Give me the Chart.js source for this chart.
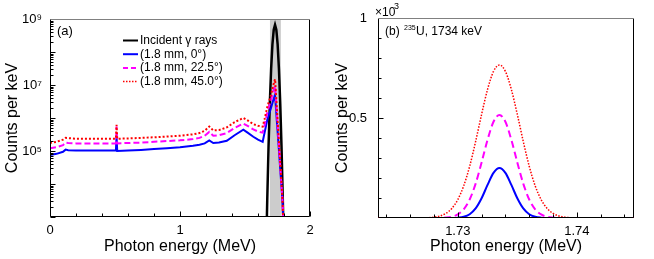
<!DOCTYPE html>
<html>
<head>
<meta charset="utf-8">
<script src="https://cdn.jsdelivr.net/npm/chart.js@4.4.0/dist/chart.umd.min.js"></script>
<style>
  html, body { margin: 0; padding: 0; background: #fff; }
  #wrap { position: relative; width: 654px; height: 259px; }
  canvas { position: absolute; top: 0; }
  #chartA { left: 0; }
  #chartB { left: 330px; }
</style>
</head>
<body>
<div id="wrap">
  <canvas id="chartA" width="330" height="259"></canvas>
  <canvas id="chartB" width="324" height="259"></canvas>
</div>
<script>
// series names
const seriesNames = ['Incident \u03b3 rays', '(1.8 mm, 0\u00b0)', '(1.8 mm, 22.5\u00b0)', '(1.8 mm, 45.0\u00b0)'];

// panel (a): incident gamma rays (MeV, counts per keV)
const incEnergy = [0, 1.65, 1.661, 1.671, 1.681, 1.691, 1.701, 1.711, 1.721, 1.731, 1.741, 1.751, 1.761, 1.771, 1.781, 1.791, 1.801, 1.81, 2.0];
const incCounts = [1, 1, 37, 3.1e3, 1.3e5, 2.8e6, 3.1e7, 1.7e8, 4.7e8, 6.6e8, 4.7e8, 1.7e8, 3.1e7, 2.8e6, 1.3e5, 3.1e3, 37, 1, 1];

// panel (a): detector spectra
const energyA = [0, 0.05, 0.10, 0.12, 0.14, 0.2, 0.3, 0.4, 0.5, 0.507, 0.512, 0.517, 0.6, 0.7, 0.8, 0.9, 1.0, 1.1, 1.15, 1.19, 1.225, 1.256, 1.3, 1.36, 1.42, 1.487, 1.52, 1.564, 1.6, 1.636, 1.65, 1.672, 1.70, 1.715, 1.731, 1.745, 1.76, 1.775, 1.79, 1.80, 2.0];
const blueA = [7.6e4, 8.2e4, 9.5e4, 1.1e5, 1.06e5, 1.04e5, 1.03e5, 1.03e5, 1.03e5, 1.04e5, 2.9e5, 1.0e5, 1.04e5, 1.08e5, 1.14e5, 1.22e5, 1.3e5, 1.45e5, 1.55e5, 1.7e5, 2.1e5, 1.75e5, 1.8e5, 2.05e5, 3.0e5, 4.4e5, 3.6e5, 2.7e5, 2.2e5, 1.9e5, 3.5e5, 9e5, 2e6, 3.2e6, 5e6, 8e5, 1.2e5, 1.7e4, 2.5e3, 100, 100];
const magentaA = [1.2e5, 1.3e5, 1.5e5, 1.8e5, 1.75e5, 1.7e5, 1.7e5, 1.7e5, 1.7e5, 1.75e5, 5.5e5, 1.7e5, 1.75e5, 1.8e5, 1.9e5, 2.0e5, 2.1e5, 2.3e5, 2.5e5, 2.9e5, 3.8e5, 2.9e5, 3.0e5, 3.5e5, 5e5, 6.8e5, 5.8e5, 4.5e5, 3.9e5, 3.6e5, 6e5, 1.5e6, 3.5e6, 6e6, 9.5e6, 1.4e6, 1.7e5, 2.1e4, 2.6e3, 100, 100];
const redA = [1.75e5, 1.9e5, 2.2e5, 2.5e5, 2.45e5, 2.35e5, 2.35e5, 2.35e5, 2.35e5, 2.4e5, 6.2e5, 2.35e5, 2.4e5, 2.5e5, 2.6e5, 2.75e5, 2.9e5, 3.2e5, 3.5e5, 4.1e5, 5.5e5, 4.2e5, 4.3e5, 5.2e5, 7.5e5, 1.0e6, 8.5e5, 6.5e5, 5.8e5, 5.5e5, 9e5, 2.2e6, 5e6, 9e6, 1.5e7, 2e6, 2.2e5, 2.5e4, 2.5e3, 100, 100];

// panel (b): 1734 keV peak (x10^3 counts per keV)
const energyB = [1.7233, 1.7265, 1.7270, 1.7275, 1.7280, 1.7285, 1.7290, 1.7295, 1.7300, 1.7305, 1.7310, 1.7315, 1.7320, 1.7325, 1.7330, 1.7335, 1.7340, 1.7345, 1.7350, 1.7355, 1.7360, 1.7365, 1.7370, 1.7375, 1.7380, 1.7385, 1.7390, 1.7395, 1.7400, 1.7405, 1.7448];
const blueB = [0, 0, 0, 0, 0, 0, 0, 0.0003, 0.0016, 0.0061, 0.0189, 0.0479, 0.0986, 0.1654, 0.2255, 0.25, 0.2255, 0.1654, 0.0986, 0.0479, 0.0189, 0.0061, 0.0016, 0.0003, 0, 0, 0, 0, 0, 0, 0];
const magentaB = [0, 0, 0, 0, 0.0001, 0.0005, 0.002, 0.0064, 0.0179, 0.0436, 0.0927, 0.172, 0.278, 0.391, 0.481, 0.515, 0.481, 0.391, 0.278, 0.172, 0.0927, 0.0436, 0.0179, 0.0064, 0.002, 0.0005, 0.0001, 0, 0, 0, 0];
const redB = [0, 0.0002, 0.0005, 0.0015, 0.0041, 0.0101, 0.023, 0.048, 0.0919, 0.161, 0.259, 0.383, 0.518, 0.643, 0.733, 0.765, 0.733, 0.643, 0.518, 0.383, 0.259, 0.161, 0.0919, 0.048, 0.023, 0.0101, 0.0041, 0.0015, 0.0005, 0.0002, 0];

// tick labels
const xTicksA = [0, 1, 2];
const yTicksA = [1e5, 1e7, 1e9];
const yTickTextA = ['10\u2075', '10\u2077', '10\u2079'];
const xTicksB = [1.73, 1.74];
const yTicksB = [0.5, 1];
const yTickTextB = ['0.5', '1'];

// shaded window around the 1734 keV line
const bandLo = 1.692, bandHi = 1.776;

const FONT = "'Liberation Sans', Arial, Helvetica, sans-serif";
Chart.defaults.font.family = FONT;
Chart.defaults.color = '#000';

const BLUE = '#0000ff', MAGENTA = '#ff00ff', RED = '#ff0000';

function toXY(xs, ys) {
  return xs.map((x, i) => ({ x: x, y: ys[i] }));
}

// grey band behind curves
const bandPlugin = {
  id: 'band',
  beforeDatasetsDraw(chart, args, opts) {
    if (!opts.show) return;
    const { ctx, chartArea: a, scales } = chart;
    const x1 = scales.x.getPixelForValue(bandLo);
    const x2 = scales.x.getPixelForValue(bandHi);
    ctx.save();
    ctx.fillStyle = '#cccccc';
    ctx.fillRect(x1, a.top, x2 - x1, a.bottom - a.top);
    ctx.restore();
  }
};

// box and inward ticks
const framePlugin = {
  id: 'frame',
  afterDatasetsDraw(chart, args, opts) {
    const { ctx, chartArea: a, scales } = chart;
    ctx.save();
    ctx.lineWidth = 1;
    ctx.strokeStyle = '#000';
    const seg = (x1, y1, x2, y2) => { ctx.beginPath(); ctx.moveTo(x1, y1); ctx.lineTo(x2, y2); ctx.stroke(); };
    const L = Math.round(a.left) + 0.5, R = Math.round(a.right) - 0.5;
    const T = Math.round(a.top) + 0.5, B = Math.round(a.bottom) - 0.5;
    (opts.xMajor || []).forEach(v => { const p = Math.round(scales.x.getPixelForValue(v)) + 0.5; seg(p, B, p, B - 5); });
    (opts.xMinor || []).forEach(v => { const p = Math.round(scales.x.getPixelForValue(v)) + 0.5; seg(p, B, p, B - 3); });
    (opts.yMajor || []).forEach(v => { const p = Math.round(scales.y.getPixelForValue(v)) + 0.5; seg(L, p, L + 5, p); });
    (opts.yMinor || []).forEach(v => { const p = Math.round(scales.y.getPixelForValue(v)) + 0.5; seg(L, p, L + 3, p); });
    seg(L, T, L, B); seg(L, B, R, B); seg(R, B, R, T);
    ctx.strokeStyle = '#808080';
    seg(L, T, R, T);
    ctx.restore();
  }
};

// legend and panel text inside the plot
const keyPlugin = {
  id: 'key',
  afterDraw(chart, args, opts) {
    const { ctx } = chart;
    ctx.save();
    ctx.font = '12px ' + FONT;
    ctx.textBaseline = 'middle';
    ctx.fillStyle = '#000';
    opts.items.forEach((it, i) => {
      const y = opts.y + i * opts.row;
      ctx.strokeStyle = it.color;
      ctx.lineWidth = it.width;
      ctx.setLineDash(it.dash || []);
      ctx.beginPath();
      ctx.moveTo(opts.x, y);
      ctx.lineTo(opts.x + opts.len, y);
      ctx.stroke();
      ctx.setLineDash([]);
      ctx.textAlign = 'left';
      ctx.font = '12px ' + FONT;
      ctx.fillText(it.text, opts.x + opts.len + 2, y);
    });
    (opts.notes || []).forEach(n => {
      ctx.font = n.size + 'px ' + FONT;
      ctx.textAlign = 'left';
      ctx.fillText(n.text, n.x, n.y);
    });
    ctx.restore();
  }
};

const logMinorA = [];
for (let e = 3; e < 9; e++) {
  for (let m = 2; m < 10; m++) logMinorA.push(m * Math.pow(10, e));
}
const logMajorA = [1e3, 1e4, 1e5, 1e6, 1e7, 1e8, 1e9];

new Chart(document.getElementById('chartA'), {
  type: 'line',
  data: {
    datasets: [
      { label: seriesNames[0], data: toXY(incEnergy, incCounts), borderColor: '#000', borderWidth: 2.5, order: 4 },
      { label: seriesNames[1], data: toXY(energyA, blueA), borderColor: BLUE, borderWidth: 2, order: 3 },
      { label: seriesNames[2], data: toXY(energyA, magentaA), borderColor: MAGENTA, borderWidth: 2, borderDash: [6, 3], order: 2 },
      { label: seriesNames[3], data: toXY(energyA, redA), borderColor: RED, borderWidth: 2, borderDash: [2, 2], order: 1 }
    ]
  },
  options: {
    responsive: false,
    devicePixelRatio: 1,
    animation: false,
    elements: { point: { radius: 0 }, line: { tension: 0, fill: false } },
    layout: { padding: { top: 19, right: 20, left: 0, bottom: 0 } },
    plugins: {
      legend: { display: false },
      tooltip: { enabled: false },
      band: { show: true },
      frame: { xMajor: xTicksA, xMinor: [0.2, 0.4, 0.6, 0.8, 1.2, 1.4, 1.6, 1.8], yMajor: logMajorA, yMinor: logMinorA },
      key: {
        x: 123, y: 40.5, row: 13.7, len: 15,
        items: [
          { text: seriesNames[0], color: '#000', width: 2 },
          { text: seriesNames[1], color: BLUE, width: 2 },
          { text: seriesNames[2], color: MAGENTA, width: 2, dash: [5, 3] },
          { text: seriesNames[3], color: RED, width: 1.5, dash: [1.5, 1.5] }
        ],
        notes: [{ text: '(a)', x: 57, y: 31, size: 13 }]
      }
    },
    scales: {
      x: {
        type: 'linear', min: 0, max: 2,
        afterFit(s) { s.height = 42; },
        afterBuildTicks(s) { s.ticks = xTicksA.map(v => ({ value: v })); },
        grid: { display: false }, border: { display: false },
        ticks: { font: { size: 13 }, padding: -2, maxRotation: 0, callback: v => String(v) },
        title: { display: true, text: 'Photon energy (MeV)', font: { size: 16 }, padding: { top: 2, bottom: 3 } }
      },
      y: {
        type: 'logarithmic', min: 1e3, max: 1e9,
        afterFit(s) { s.width = 50; },
        afterBuildTicks(s) { s.ticks = yTicksA.map(v => ({ value: v })); },
        grid: { display: false }, border: { display: false },
        ticks: { font: { size: 13 }, padding: 0, callback: v => yTickTextA[yTicksA.indexOf(v)] || '' },
        title: { display: true, text: 'Counts per keV', font: { size: 16 }, padding: { top: 3, bottom: 0 } }
      }
    }
  },
  plugins: [bandPlugin, framePlugin, keyPlugin]
});

new Chart(document.getElementById('chartB'), {
  type: 'line',
  data: {
    datasets: [
      { label: seriesNames[1], data: toXY(energyB, blueB), borderColor: BLUE, borderWidth: 2, order: 3 },
      { label: seriesNames[2], data: toXY(energyB, magentaB), borderColor: MAGENTA, borderWidth: 2, borderDash: [7, 4], order: 2 },
      { label: seriesNames[3], data: toXY(energyB, redB), borderColor: RED, borderWidth: 1.5, borderDash: [1.5, 1.5], order: 1 }
    ]
  },
  options: {
    responsive: false,
    devicePixelRatio: 1,
    animation: false,
    elements: { point: { radius: 0 }, line: { cubicInterpolationMode: 'monotone', fill: false } },
    layout: { padding: { top: 18, right: 20, left: 0, bottom: 0 } },
    plugins: {
      legend: { display: false },
      tooltip: { enabled: false },
      band: { show: false },
      frame: {
        xMajor: xTicksB, xMinor: [1.724, 1.726, 1.728, 1.732, 1.734, 1.736, 1.738, 1.742, 1.744],
        yMajor: [0.5], yMinor: [0.1, 0.2, 0.3, 0.4, 0.6, 0.7, 0.8, 0.9]
      },
      key: {
        x: 532, y: 37.5, row: 16, len: 17,
        items: [
          { text: seriesNames[1], color: BLUE, width: 2 },
          { text: seriesNames[2], color: MAGENTA, width: 2, dash: [6, 4] },
          { text: seriesNames[3], color: RED, width: 1.5, dash: [1.5, 1.5] }
        ],
        notes: []
      }
    },
    scales: {
      x: {
        type: 'linear', min: 1.7233, max: 1.7448,
        afterFit(s) { s.height = 41; },
        afterBuildTicks(s) { s.ticks = xTicksB.map(v => ({ value: v })); },
        grid: { display: false }, border: { display: false },
        ticks: { font: { size: 13 }, padding: -2, maxRotation: 0, callback: v => v.toFixed(2) },
        title: { display: true, text: 'Photon energy (MeV)', font: { size: 16 }, padding: { top: 2, bottom: 3 } }
      },
      y: {
        type: 'linear', min: 0, max: 1,
        afterFit(s) { s.width = 48; },
        afterBuildTicks(s) { s.ticks = yTicksB.map(v => ({ value: v })); },
        grid: { display: false }, border: { display: false },
        ticks: { font: { size: 13 }, padding: 3, callback: v => yTickTextB[yTicksB.indexOf(v)] || '' },
        title: { display: true, text: 'Counts per keV', font: { size: 16 }, padding: { top: 3, bottom: 0 } }
      }
    }
  },
  plugins: [framePlugin, {
    id: 'notesB',
    afterDraw(chart) {
      const { ctx } = chart;
      ctx.save();
      ctx.fillStyle = '#000';
      ctx.textBaseline = 'middle';
      ctx.textAlign = 'left';
      ctx.font = '12px ' + FONT;
      ctx.fillText('\u00d710', 45, 13);
      ctx.font = '9px ' + FONT;
      ctx.fillText('3', 64, 7);
      ctx.font = '12px ' + FONT;
      ctx.fillText('(b)', 55, 32);
      ctx.font = '7px ' + FONT;
      ctx.fillText('235', 74, 28);
      ctx.font = '12px ' + FONT;
      ctx.fillText('U, 1734 keV', 86, 32);
      ctx.restore();
    }
  }, keyPlugin]
});
</script>
</body>
</html>
